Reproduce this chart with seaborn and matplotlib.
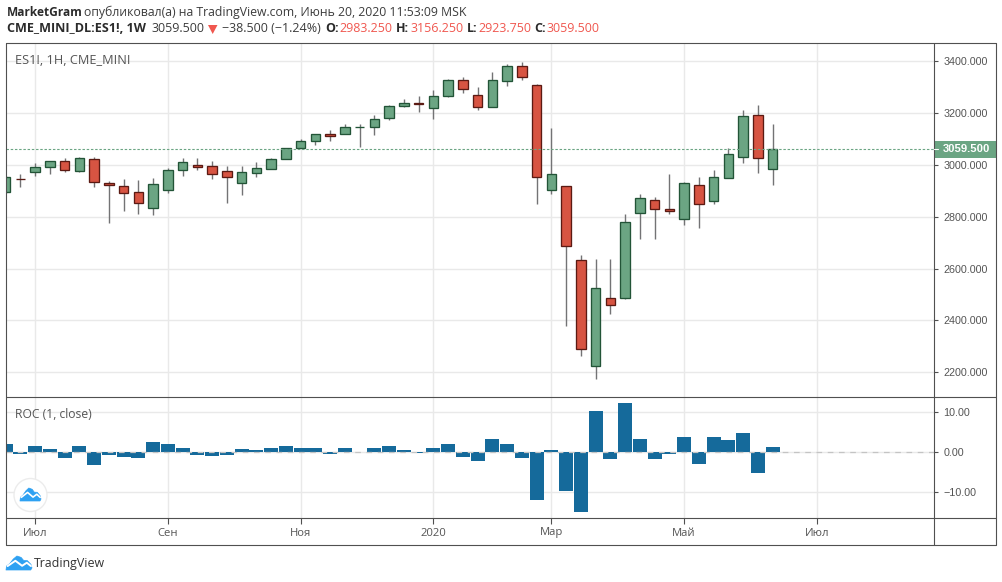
import matplotlib
matplotlib.use("Agg")
import matplotlib.pyplot as plt
from matplotlib.patches import Polygon, Rectangle, Circle
import numpy as np
import pandas as pd
import seaborn as sns

# weekly candles
opens = [2894, 2947, 2971, 2992, 3015, 2975, 3023, 2930, 2919, 2896, 2835, 2903, 2980.5, 3000, 2996, 2977,
         2930, 2969, 2985.5, 3023, 3065, 3092, 3119, 3118, 3145, 3145, 3179, 3226, 3239, 3218, 3264, 3327,
         3270, 3222, 3322, 3381, 3308, 2902, 2919, 2633.5, 2223, 2487, 2485.5, 2813, 2865, 2830, 2790,
         2922.75, 2859.5, 2948, 3029, 3192.5, 2983.25]
highs = [2957, 2966, 3007.5, 3016, 3027, 3031, 3031, 2939, 2947, 2943, 2950, 2988, 3027, 3027, 3015, 2996,
         2996, 3011, 3027, 3066.5, 3100, 3120, 3135, 3159, 3159, 3190, 3232, 3254, 3267, 3290, 3332.5, 3340,
         3298, 3359.5, 3390, 3398, 3313, 3140, 2920, 2654, 2638.5, 2638.5, 2812, 2889, 2877.5, 2966, 2935,
         2951, 2978, 3066.5, 3213, 3232, 3156.25]
lows = [2890, 2913, 2956, 2963.5, 2971, 2971, 2913, 2777, 2820, 2812, 2808, 2892, 2956, 2978, 2947, 2854,
        2882, 2952, 2982, 3022, 3063, 3075, 3091, 3118, 3067.5, 3116.5, 3174, 3221, 3205, 3178, 3263, 3278,
        3213, 3221, 3303, 3325, 2850.5, 2889, 2380, 2262, 2176, 2426.5, 2484, 2712, 2715.5, 2812, 2769.5,
        2758, 2850.5, 2948, 3008.5, 2970, 2923.75]
closes = [2953.5, 2945, 2992, 3015, 2979, 3027, 2934, 2923, 2892, 2854.5, 2926.5, 2980.5, 3011, 2992, 2965,
          2953.5, 2973, 2988, 3023, 3065, 3092, 3119, 3111.5, 3146, 3146, 3177, 3227, 3239, 3233, 3266, 3327,
          3291, 3222, 3327, 3381, 3337.5, 2952, 2965, 2686, 2289, 2525.5, 2458.5, 2780, 2872.5, 2828.5, 2821,
          2930, 2848, 2953.5, 3042, 3188.75, 3025, 3059.5]
roc = [2.1, -0.4, 1.6, 0.8, -1.4, 1.6, -3.2, -0.7, -1.2, -1.4, 2.6, 2.1, 1.1, -0.7, -0.9, -0.7, 0.8, 0.6,
       1.1, 1.6, 1.1, 1.1, -0.4, 1.1, -0.1, 1.1, 1.6, 0.6, -0.2, 1.1, 1.9, -1.2, -2.2, 3.3, 1.9, -1.4, -11.9,
       0.6, -9.7, -14.9, 10.3, -1.7, 12.1, 3.3, -1.7, -0.4, 3.8, -2.9, 3.8, 3.1, 4.8, -5.2, 1.3]

month_pos = [2, 11, 20, 29, 37, 46, 55]
month_labels = ["Июл", "Сен", "Ноя", "2020", "Мар", "Май", "Июл"]
price_ticks = [3400, 3200, 3000, 2800, 2600, 2400, 2200]
roc_ticks = [10, 0, -10]
roc_labels = ["10.00", "0.00", "−10.00"]
last_price = 3059.5

UP = "#6ba583"
UP_EDGE = "#225437"
DOWN = "#d75442"
DOWN_EDGE = "#5b1a13"
WICK = "#737375"
GRID = "#e9e9e9"
FRAME = "#505050"
TEXT = "#555555"
BLUE = "#2ea1f2"

sns.set_theme(style="white")
plt.rcParams["font.family"] = ["Open Sans", "DejaVu Sans"]

W, H = 1003, 582
fig = plt.figure(figsize=(W / 100, H / 100), dpi=100)


def px_axes(x0, y0, x1, y1, **kw):
    return fig.add_axes([x0 / W, 1 - y1 / H, (x1 - x0) / W, (y1 - y0) / H], **kw)


LEFT, RIGHT, AXIS_R = 6.5, 934.5, 996.5
TOP, DIV, BOTTOM, END = 43, 397, 518, 545
ax = px_axes(LEFT, TOP, RIGHT, DIV)
ax2 = px_axes(LEFT, DIV, RIGHT, BOTTOM)

df = pd.DataFrame({"i": range(len(opens)), "open": opens, "high": highs, "low": lows, "close": closes})
df["bot"] = df[["open", "close"]].min(axis=1)
df["size"] = (df["close"] - df["open"]).abs()
df["up"] = df["close"] >= df["open"]

ax.vlines(df["i"], df["low"], df["high"], color=WICK, lw=1.0, zorder=2)
for flag, face, edge in [(True, UP, UP_EDGE), (False, DOWN, DOWN_EDGE)]:
    part = df[df["up"] == flag]
    sns.barplot(data=part, x="i", y="size", native_scale=True, errorbar=None, width=0.64, ax=ax,
                bottom=part["bot"].values, color=face, saturation=1, edgecolor=edge, linewidth=0.95, zorder=3)
ax.axhline(last_price, color=UP, lw=0.8, ls=(0, (2.2, 1.6)), zorder=4)

roc_df = pd.DataFrame({"i": range(len(roc)), "roc": roc})
sns.barplot(data=roc_df, x="i", y="roc", native_scale=True, errorbar=None, width=0.94, ax=ax2,
            color="#156a9b", saturation=1, linewidth=0, zorder=3)
ax2.axhline(0, color="#c4c4c4", lw=0.9, ls=(0, (4.5, 4.5)), zorder=4)

xlim = ((LEFT - 5.6) / 14.75, (RIGHT - 5.6) / 14.75)
for a in (ax, ax2):
    a.set_xlim(*xlim)
    a.set_xlabel("")
    a.set_ylabel("")
    a.set_xticks(month_pos)
    a.set_xticklabels([])
    a.grid(True, color=GRID, lw=1.0, zorder=0)
    a.set_axisbelow(True)
    a.tick_params(axis="x", length=0)
    a.yaxis.tick_right()
    a.tick_params(axis="y", right=True, length=3, width=0.8, color=FRAME, pad=3.4, labelsize=7.75, labelcolor=TEXT)
    for s in a.spines.values():
        s.set_visible(False)

ax.set_ylim(2104.7, 3469.4)
ax.set_yticks(price_ticks)
ax.set_yticklabels([f"{v}.000" for v in price_ticks], family="Liberation Sans")
ax2.set_ylim(-16.4, 13.7)
ax2.set_yticks(roc_ticks)
ax2.set_yticklabels(roc_labels, family="Liberation Sans")
ax2.tick_params(axis="x", bottom=True, length=4, width=0.8, color=FRAME, direction="out")

# overlay in pixel coordinates for frame, header and logos
ov = fig.add_axes([0, 0, 1, 1], facecolor="none", zorder=10)
ov.set_xlim(0, W)
ov.set_ylim(H, 0)
ov.axis("off")
ov.plot([LEFT, AXIS_R, AXIS_R, LEFT, LEFT], [TOP, TOP, END, END, TOP], color=FRAME, lw=0.8)
ov.plot([RIGHT, RIGHT], [TOP, END], color=FRAME, lw=0.8)
ov.plot([LEFT, AXIS_R], [DIV, DIV], color=FRAME, lw=0.8)
ov.plot([LEFT, AXIS_R], [BOTTOM, BOTTOM], color=FRAME, lw=0.8)

for p, lab in zip(month_pos, month_labels):
    ov.text(5.6 + p * 14.75, 533, lab, ha="center", va="center", fontsize=8.1, color=TEXT)

ov.add_patch(Rectangle((RIGHT, 141), AXIS_R - RIGHT, 16.5, facecolor=UP, edgecolor="none"))
ov.plot([RIGHT, RIGHT + 4], [149.3, 149.3], color="white", lw=0.8)
ov.text(943, 149.3, "3059.500", ha="left", va="center", fontsize=8.1, color="white", weight="bold",
        family="Liberation Sans")

ov.text(15, 61, "ES1!, 1H, CME_MINI", ha="left", va="center", fontsize=9.2, color=TEXT)
ov.text(15, 414, "ROC (1, close)", ha="left", va="center", fontsize=8.7, color=TEXT)

DARK = "#2b2b2b"
RED = "#f0574f"
head = [
    (7, 12, "MarketGram", "bold", DARK, 8.6),
    (84, 12, "опубликовал(а) на TradingView.com, Июнь 20, 2020 11:53:09 MSK", "normal", "#3c3c3c", 8.8),
    (7, 29, "CME_MINI_DL:ES1!, 1W", "bold", DARK, 9.1),
    (152, 29, "3059.500", "normal", "#3c3c3c", 9.0),
    (222, 29, "−38.500 (−1.24%)", "normal", "#3c3c3c", 9.0),
    (325, 29, "O:", "bold", DARK, 9.0),
    (339, 29, "2983.250", "normal", RED, 9.0),
    (396, 29, "H:", "bold", DARK, 9.0),
    (411, 29, "3156.250", "normal", RED, 9.0),
    (467, 29, "L:", "bold", DARK, 9.0),
    (478, 29, "2923.750", "normal", RED, 9.0),
    (534, 29, "C:", "bold", DARK, 9.0),
    (547, 29, "3059.500", "normal", RED, 9.0),
]
for x, y, s, w, c, fs in head:
    ov.text(x, y, s, ha="left", va="center", fontsize=fs, weight=w, color=c)
ov.add_patch(Polygon([(208, 25), (217.5, 25), (212.7, 34)], facecolor=RED, edgecolor="none"))

ov.text(34, 563.5, "TradingView", ha="left", va="center", fontsize=8.9, color="#333333")

# cloud shape of the logo, in unit coordinates
cloud = np.array([(0, 1), (0.02, 0.72), (0.14, 0.55), (0.28, 0.22), (0.42, 0.0), (0.58, 0.1), (0.68, 0.32),
                  (0.82, 0.33), (0.96, 0.6), (1, 0.85), (0.95, 1)])
zig = np.array([(0.06, 0.72), (0.36, 0.34), (0.62, 0.7), (0.8, 0.48), (0.96, 0.72)])


def logo(x, y, w, h, lw):
    ov.add_patch(Polygon(cloud * [w, h] + [x, y], facecolor=BLUE, edgecolor=BLUE, lw=0.5, joinstyle="round"))
    ov.plot(*(zig * [w, h] + [x, y]).T, color="white", lw=lw)


ov.add_patch(Circle((30.5, 495), 16.5, facecolor="white", edgecolor="#ececec", lw=1.0))
logo(20, 488, 21, 13, 1.2)
logo(6, 556, 26, 14, 1.4)

fig.savefig("out.png", dpi=100, facecolor="white")
